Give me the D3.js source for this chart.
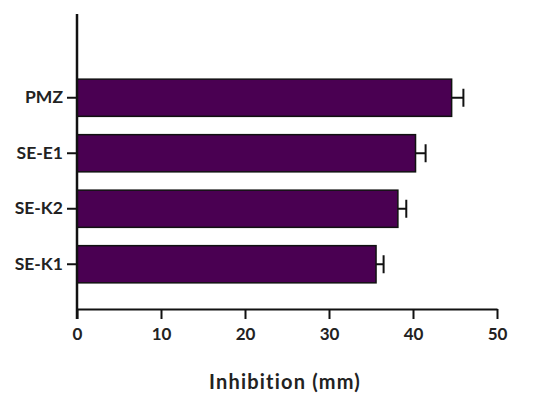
<!DOCTYPE html>
<html>
<head>
<meta charset="utf-8">
<script src="https://cdn.jsdelivr.net/npm/d3@7"></script>
<style>
  body { margin: 0; background: #fff; }
  text { font-family: Lato, "Open Sans", sans-serif; font-weight: bold; fill: #222; }
</style>
</head>
<body>
<div id="chart"></div>
<script>
// ---------------- data ----------------
var categories = ["PMZ", "SE-E1", "SE-K2", "SE-K1"];
var values = [44.6, 40.3, 38.2, 35.6];
var errors = [1.4, 1.2, 1.0, 0.9];
var xTicks = [0, 10, 20, 30, 40, 50];

var width = 550, height = 407;
var margin = { top: 14, left: 77, right: 53, bottom: 98 };

var svg = d3.select("#chart").append("svg")
  .attr("width", width)
  .attr("height", height);

var x = d3.scaleLinear()
  .domain([0, 50])
  .range([margin.left, width - margin.right]);

var y = d3.scaleBand()
  .domain(categories)
  .range([70, 292])
  .paddingInner(0.33)
  .paddingOuter(0.165);

var data = categories.map(function (c, i) {
  return { name: c, value: values[i], err: errors[i] };
});

var axisY = height - margin.bottom; // 309

// bars
svg.selectAll(".bar")
  .data(data)
  .enter().append("rect")
  .attr("class", "bar")
  .attr("x", x(0))
  .attr("y", function (d) { return y(d.name); })
  .attr("width", function (d) { return x(d.value) - x(0); })
  .attr("height", y.bandwidth())
  .attr("fill", "#4a0052")
  .attr("stroke", "#111")
  .attr("stroke-width", 1.5);

// error bars
var eb = svg.selectAll(".err")
  .data(data)
  .enter().append("g")
  .attr("class", "err")
  .attr("stroke", "#111")
  .attr("stroke-width", 2);

eb.append("line")
  .attr("x1", function (d) { return x(d.value); })
  .attr("x2", function (d) { return x(d.value + d.err); })
  .attr("y1", function (d) { return y(d.name) + y.bandwidth() / 2; })
  .attr("y2", function (d) { return y(d.name) + y.bandwidth() / 2; });

eb.append("line")
  .attr("x1", function (d) { return x(d.value + d.err); })
  .attr("x2", function (d) { return x(d.value + d.err); })
  .attr("y1", function (d) { return y(d.name) + y.bandwidth() / 2 - 9; })
  .attr("y2", function (d) { return y(d.name) + y.bandwidth() / 2 + 9; });

// x axis
var gx = svg.append("g")
  .attr("transform", "translate(0," + axisY + ")")
  .call(d3.axisBottom(x)
    .tickValues(xTicks)
    .tickSize(10)
    .tickPadding(9)
    .tickSizeOuter(0));
gx.select(".domain").attr("stroke", "#111").attr("stroke-width", 2);
gx.selectAll(".tick line").attr("stroke", "#111").attr("stroke-width", 2);
gx.selectAll(".tick text").style("font-size", "17px").attr("fill", "#222");

// y axis
var gy = svg.append("g")
  .attr("transform", "translate(" + margin.left + ",0)")
  .call(d3.axisLeft(y)
    .tickSize(10)
    .tickPadding(4)
    .tickSizeOuter(0));
gy.select(".domain")
  .attr("d", "M0," + margin.top + "V" + (axisY + 10))
  .attr("stroke", "#111").attr("stroke-width", 2.5);
gy.selectAll(".tick line").attr("stroke", "#111").attr("stroke-width", 2);
gy.selectAll(".tick text").style("font-size", "17.5px").attr("fill", "#222");

// x title
svg.append("text")
  .attr("x", 285)
  .attr("y", 389)
  .attr("text-anchor", "middle")
  .style("font-size", "20px")
  .style("letter-spacing", "1.2px")
  .text("Inhibition (mm)");
</script>
</body>
</html>
